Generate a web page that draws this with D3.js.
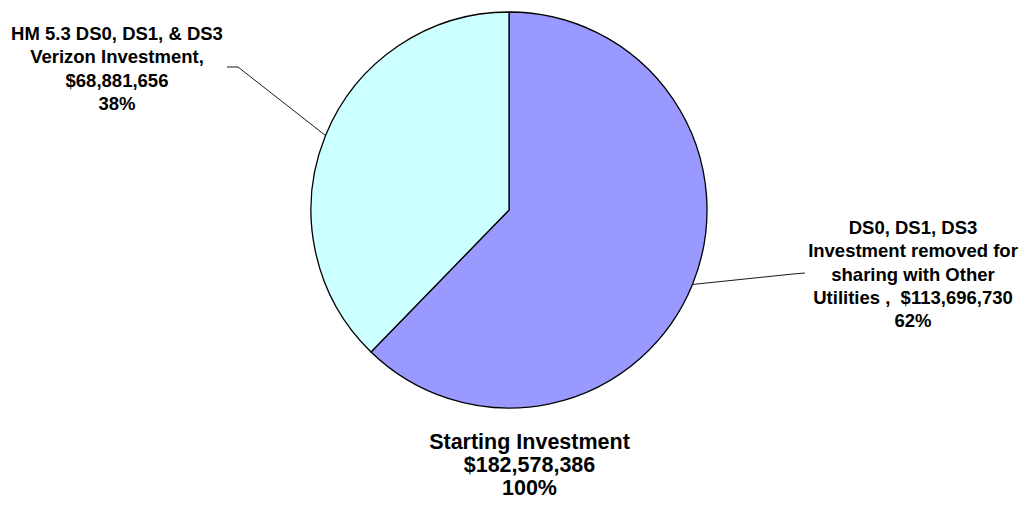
<!DOCTYPE html>
<html>
<head>
<meta charset="utf-8">
<script src="https://cdn.jsdelivr.net/npm/d3@7"></script>
<style>
  html, body { margin: 0; padding: 0; background: #fff; }
  svg text { font-family: Arial, "Liberation Sans", sans-serif; font-weight: bold; fill: #000; }
</style>
</head>
<body>
<svg class="chart"></svg>
<script>
const categories = [
  ['DS0, DS1, DS3', 'Investment removed for', 'sharing with Other', 'Utilities ,  '],
  ['HM 5.3 DS0, DS1, & DS3', 'Verizon Investment,', '']
];
const values = [113696730, 68881656];
const colors = ['#9999FF', '#CCFFFF'];
const totalTitle = 'Starting Investment';

const startApp = () => {
  const size = { width: 1025, height: 506 };
  const center = { x: 509, y: 210 };
  const radius = 198;
  const money = d3.format('$,');
  const pct = d3.format('.0%');
  const total = d3.sum(values);

  // label anchor (text centre x, first baseline) and leader elbow
  const labelPos = [
    { x: 913, y: 234, elbow: [[805, 273], [793, 274]] },
    { x: 117, y: 40, elbow: [[227, 67], [238, 67]] }
  ];

  const svg = d3.select('.chart')
    .attr('width', size.width)
    .attr('height', size.height);

  const pie = d3.pie().sort(null).value(d => d)(values);
  const arc = d3.arc().innerRadius(0).outerRadius(radius);
  const edge = d3.arc().innerRadius(radius).outerRadius(radius);

  const g = svg.append('g')
    .attr('transform', `translate(${center.x}, ${center.y})`);

  g.selectAll('path.slice')
    .data(pie)
    .enter()
    .append('path')
    .attr('class', 'slice')
    .attr('d', arc)
    .attr('fill', (d, i) => colors[i])
    .attr('stroke', '#000')
    .attr('stroke-width', 1.3)
    .attr('stroke-linejoin', 'round');

  // leader lines from slice mid-arc to the label
  pie.forEach((d, i) => {
    const [ex, ey] = edge.centroid(d);
    const pts = [...labelPos[i].elbow, [ex + center.x, ey + center.y]];
    svg.append('path')
      .attr('d', d3.line()(pts))
      .attr('fill', 'none')
      .attr('stroke', '#000')
      .attr('stroke-width', 0.9);
  });

  // slice labels
  pie.forEach((d, i) => {
    const lines = categories[i].slice();
    lines[lines.length - 1] += money(values[i]);
    lines.push(pct(values[i] / total));
    const t = svg.append('text')
      .attr('text-anchor', 'middle')
      .attr('font-size', '18.5px');
    lines.forEach((line, j) => {
      t.append('tspan')
        .attr('x', labelPos[i].x)
        .attr('y', labelPos[i].y + j * 23.3)
        .attr('xml:space', 'preserve')
        .text(line);
    });
  });

  // total label under the pie
  const totalLines = [totalTitle, money(total), pct(1)];
  const tt = svg.append('text')
    .attr('text-anchor', 'middle')
    .attr('font-size', '21.5px');
  totalLines.forEach((line, j) => {
    tt.append('tspan')
      .attr('x', 529.5)
      .attr('y', 449 + j * 23)
      .text(line);
  });
};

window.onload = startApp;
</script>
</body>
</html>
